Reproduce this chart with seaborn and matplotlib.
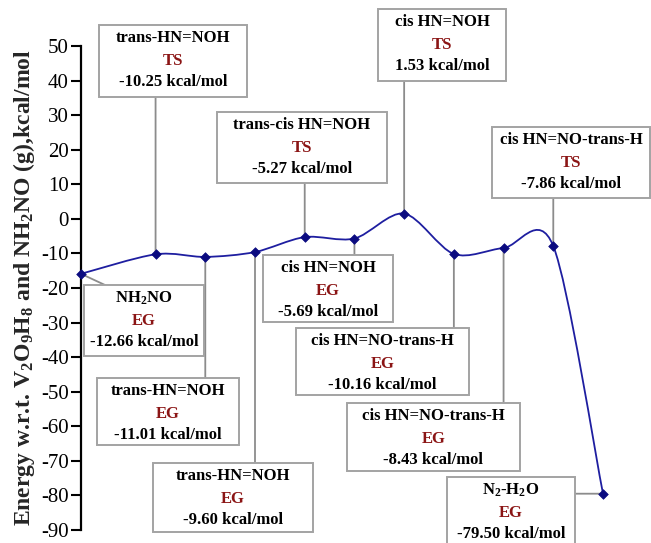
import numpy as np
import matplotlib
matplotlib.use("Agg")
import matplotlib.pyplot as plt
from matplotlib.path import Path
from matplotlib.patches import PathPatch, Rectangle
from matplotlib.transforms import blended_transform_factory
import seaborn as sns

# ---- data ----
stage_x = [0, 1.5, 2.5, 3.5, 4.5, 5.5, 6.5, 7.5, 8.5, 9.5, 10.5]
energy = [-15.9, -10.25, -11.01, -9.60, -5.27, -5.69, 1.53, -10.16, -8.43, -7.86, -79.50]
label_energy = [-12.66, -10.25, -11.01, -9.60, -5.27, -5.69, 1.53, -10.16, -8.43, -7.86, -79.50]
species = [r"NH$_\mathrm{2}$NO", "trans-HN=NOH", "trans-HN=NOH", "trans-HN=NOH",
           "trans-cis HN=NOH", "cis HN=NOH", "cis HN=NOH", "cis HN=NO-trans-H",
           "cis HN=NO-trans-H", "cis HN=NO-trans-H", r"N$_\mathrm{2}$-H$_\mathrm{2}$O"]
state = ["EG", "TS", "EG", "EG", "TS", "EG", "TS", "EG", "EG", "TS", "EG"]
y_ticks = list(range(-90, 51, 10))

W, H = 651, 543

# label boxes in image pixels (left, top, right, bottom), one per stage
boxes_px = [(84, 285, 204, 356), (99, 25, 247, 97), (97, 378, 239, 445),
            (153, 463, 313, 532), (217, 112, 387, 183), (263, 255, 393, 322),
            (378, 9, 506, 81), (296, 328, 469, 395), (347, 403, 520, 471),
            (492, 127, 650, 198), (447, 477, 575, 548)]
# where the leader line meets the box: 'top', 'bottom', 'right' or a fixed pixel
attach = ["px:105,285", "bottom", "top", "top", "bottom", "top", "bottom",
          "top", "top", "bottom", "right"]

sns.set_style("white")
plt.rcParams['font.family'] = ['Liberation Serif', 'DejaVu Serif']
plt.rcParams['mathtext.fontset'] = 'custom'
plt.rcParams['mathtext.rm'] = 'Liberation Serif:bold'
plt.rcParams['mathtext.it'] = 'Liberation Serif:bold:italic'
plt.rcParams['mathtext.bf'] = 'Liberation Serif:bold'
plt.rcParams['axes.unicode_minus'] = False

fig = plt.figure(figsize=(W / 100, H / 100), dpi=100)
ax = fig.add_axes([81 / W, 1 - 530 / H, 570 / W, 484 / H])

line_col = "#1e1ea0"
box_col = "#a3a3a3"
red = "#8b1515"


def smooth_path(xs, ys, k=0.15):
    # Excel-style smoothed line: cubic Bezier through the points
    pts = np.column_stack([xs, ys]).astype(float)
    n = len(pts)
    verts, codes = [pts[0]], [Path.MOVETO]
    for i in range(n - 1):
        p0 = pts[max(i - 1, 0)]
        p1, p2 = pts[i], pts[i + 1]
        p3 = pts[min(i + 2, n - 1)]
        verts += [p1 + (p2 - p0) * k, p2 - (p3 - p1) * k, p2]
        codes += [Path.CURVE4] * 3
    return Path(verts, codes)


ax.add_patch(PathPatch(smooth_path(stage_x, energy), fill=False, edgecolor=line_col,
                       lw=1.3, zorder=2, clip_on=False))
sns.scatterplot(x=stage_x, y=energy, marker="D", s=24, color="#0b0b80",
                edgecolor="#0b0b80", linewidth=0.5, zorder=3, clip_on=False, ax=ax)

ax.set_xlim(0, 570 / (522 / 10.5))
ax.set_ylim(-90, 50)
ax.set_xticks([])
ax.set_yticks(y_ticks)
ax.set_yticklabels([str(t) for t in y_ticks])
sns.despine(ax=ax, top=True, right=True, bottom=True)
ax.spines['left'].set_linewidth(1.6)
ax.spines['left'].set_color('black')
ax.tick_params(axis='y', direction='out', length=7, width=1.5, pad=2,
               labelsize=15, colors='black', left=True)
ax.set_ylabel(r"Energy w.r.t. V$_\mathrm{2}$O$_\mathrm{9}$H$_\mathrm{8}$ and "
              r"NH$_\mathrm{2}$NO (g),kcal/mol", fontsize=17, fontweight='bold')
# label anchor is its baseline side (right edge once rotated)
ax.yaxis.set_label_coords((37 - 81) / 570, 0.5)

bx = blended_transform_factory(ax.transData, fig.transFigure)
by = blended_transform_factory(fig.transFigure, ax.transData)

for i, (l, t, r, b) in enumerate(boxes_px):
    # leader line from box edge to the point
    a = attach[i]
    if a == "top":
        xytext, tc = (stage_x[i], 1 - t / H), bx
    elif a == "bottom":
        xytext, tc = (stage_x[i], 1 - b / H), bx
    elif a == "right":
        xytext, tc = (r / W, energy[i]), by
    else:
        px, py = [float(v) for v in a[3:].split(",")]
        xytext, tc = (px / W, 1 - py / H), fig.transFigure
    ax.annotate("", xy=(stage_x[i], energy[i]), xycoords='data',
                xytext=xytext, textcoords=tc,
                arrowprops=dict(arrowstyle='-', color="#8c8c8c", lw=1.3,
                                shrinkA=0, shrinkB=0),
                zorder=1, annotation_clip=False)

    rect = Rectangle((l / W, 1 - b / H), (r - l) / W, (b - t) / H,
                     transform=fig.transFigure, facecolor='white',
                     edgecolor=box_col, lw=1.4, zorder=5)
    fig.add_artist(rect)
    cx = (l + r) / 2 / W
    fig.text(cx, 1 - (t + 13) / H, species[i], ha='center', va='center',
             fontsize=12, fontweight='bold', color='black', zorder=6)
    fig.text(cx, 1 - (t + 36) / H, state[i], ha='center', va='center',
             fontsize=12, fontweight='bold', color=red, zorder=6)
    fig.text(cx, 1 - (t + 57) / H, f"{label_energy[i]:.2f} kcal/mol", ha='center',
             va='center', fontsize=12, fontweight='bold', color='black', zorder=6)

plt.savefig("out.png", dpi=100)
plt.close()
